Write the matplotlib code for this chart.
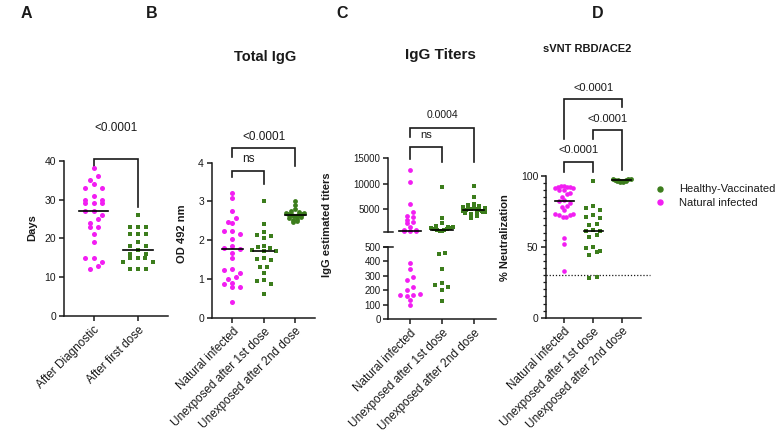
import numpy as np
import matplotlib
matplotlib.use('Agg')
import matplotlib.pyplot as plt
from matplotlib.lines import Line2D

plt.rcParams['font.family'] = ['Liberation Sans', 'DejaVu Sans']
plt.rcParams['axes.linewidth'] = 1.1

MAG = '#f21ef2'
GRN = '#3c7d1c'
INK = '#1a1a1a'

# ---------------- data ----------------
a_labels = ['After Diagnostic', 'After first dose']
a_after_diagnostic = [38, 36, 35, 34, 33, 33, 31, 30, 30, 29, 29, 29, 27, 27, 26, 25,
                      24, 23, 23, 21, 19, 15, 15, 14, 13, 12]
a_after_first_dose = [26, 23, 23, 23, 21, 21, 21, 19, 18, 18, 17, 16, 16, 15, 15, 15,
                      14, 14, 12, 12, 12]

grp_labels = ['Natural infected', 'Unexposed after 1st dose', 'Unexposed after 2nd dose']

b_natural = [3.21, 3.08, 2.76, 2.58, 2.47, 2.45, 2.25, 2.24, 2.15, 2.04, 1.84, 1.80, 1.78,
             1.66, 1.53, 1.26, 1.24, 1.15, 1.05, 1.00, 0.90, 0.88, 0.80, 0.78, 0.40]
b_first = [3.00, 2.42, 2.20, 2.13, 2.10, 2.05, 1.84, 1.82, 1.80, 1.75, 1.73, 1.72, 1.55,
           1.52, 1.50, 1.32, 1.30, 1.16, 0.98, 0.95, 0.88, 0.62]
b_second = [3.00, 2.90, 2.80, 2.75, 2.72, 2.70, 2.70, 2.68, 2.67, 2.66, 2.65, 2.65, 2.64,
            2.63, 2.62, 2.60, 2.58, 2.55, 2.52, 2.50, 2.47]

c_natural = [12800, 10300, 6000, 4400, 3700, 3500, 3000, 2500, 2300, 1600, 900, 850, 800,
             750, 700, 390, 345, 290, 270, 225, 205, 175, 170, 165, 160, 135, 100]
c_first = [9400, 3200, 2300, 1800, 1600, 1500, 1400, 1300, 1200, 1100, 1000, 900, 800, 700,
           460, 450, 345, 250, 235, 225, 200, 125]
c_second = [9500, 7400, 6000, 5800, 5600, 5400, 5300, 5200, 5100, 5000, 5000, 4900, 4800,
            4700, 4600, 4500, 4400, 4300, 4200, 4000, 3600, 3300]

d_natural = [93, 93, 92, 92, 92, 91, 91, 90, 90, 88, 87, 85, 83, 82, 81, 79, 78, 76, 73, 73,
             72, 72, 71, 71, 56, 52, 33]
d_first = [96, 79, 77, 76, 72, 71, 70, 66, 65, 62, 61, 61, 58, 57, 50, 49, 47, 46, 44, 29, 28]
d_second = [98, 97.8, 97.5, 97.2, 97, 96.8, 96.6, 96.4, 96.2, 96, 95.8, 95.5]

legend_labels = ['Healthy-Vaccinated', 'Natural infected']

# ---------------- layout helpers ----------------
W, H = 784, 447
fig = plt.figure(figsize=(W / 100, H / 100), dpi=100)


def add_ax(l, t, r, b):
    return fig.add_axes([l / W, 1 - b / H, (r - l) / W, (b - t) / H])


def ftext(x, y, s, **kw):
    fig.text(x / W, 1 - y / H, s, **kw)


def style(ax, fs, bottom=True):
    for s in ['top', 'right']:
        ax.spines[s].set_visible(False)
    ax.spines['left'].set_color(INK)
    ax.spines['bottom'].set_color(INK)
    if not bottom:
        ax.spines['bottom'].set_visible(False)
    ax.tick_params(direction='out', length=3.6, width=1.1, colors=INK, labelsize=fs, pad=2)


def xlabels(ax, labels):
    ax.set_xticks(range(len(labels)))
    ax.set_xticklabels(labels, rotation=45, ha='right', va='top', rotation_mode='anchor',
                       fontsize=8.5, color=INK)


def swarm(ax, xc, vals, step=8.0, rowh=5.0, maxw=30.0):
    """Row-binned scatter spread (pixel space), returned as x in data units."""
    vals = np.asarray(vals, float)
    pts = ax.transData.transform(np.column_stack([np.full(len(vals), xc), vals]))
    ypx = pts[:, 1]
    x0 = pts[0, 0]
    order = np.argsort(-ypx)
    rows, cur = [], []
    for i in order:
        if cur and (ypx[cur[0]] - ypx[i] > rowh):
            rows.append(cur)
            cur = []
        cur.append(i)
    rows.append(cur)
    xs = np.zeros(len(vals))
    for r in rows:
        n = len(r)
        st = step if n < 2 else min(step, maxw / (n - 1))
        # interleave so neighbouring values are spread left/right
        offs = [(j - (n - 1) / 2) * st for j in range(n)]
        seq = sorted(range(n), key=lambda j: abs(offs[j]))
        for i, j in zip(r, seq[::-1] if n % 2 == 0 else seq):
            xs[i] = x0 + offs[j]
    return ax.transData.inverted().transform(np.column_stack([xs, ypx]))[:, 0]


def draw_group(ax, xc, vals, color, marker, s=12, step=8.0, rowh=5.0, maxw=30.0, med=None):
    vals = np.asarray(vals, float)
    xs = swarm(ax, xc, vals, step, rowh, maxw)
    ax.scatter(xs, vals, s=s, marker=marker, color=color, linewidths=0, zorder=3, clip_on=False)
    if med is None:
        med = np.median(vals)
    ax.plot([xc - 0.33, xc + 0.33], [med, med], color='k', lw=1.2, zorder=4, clip_on=False)


def bracket(ax, x1, x2, top, l1, l2, txt, ty, fs):
    ax.plot([x1, x1, x2, x2], [l1, top, top, l2], color=INK, lw=1.2, clip_on=False,
            solid_joinstyle='miter')
    ax.text((x1 + x2) / 2, ty, txt, ha='center', va='center', fontsize=fs, color=INK)


# ---------------- Panel A ----------------
axA = add_ax(64, 160.7, 168, 316)
axA.set_xlim(-0.67, 1.68)
axA.set_ylim(0, 40)
axA.set_yticks([0, 10, 20, 30, 40])
style(axA, 7.5)
xlabels(axA, a_labels)
draw_group(axA, 0, a_after_diagnostic, MAG, 'o', s=13, step=8.3, rowh=4.5)
draw_group(axA, 1, a_after_first_dose, GRN, 's', s=12, step=8.0, rowh=4.5)
bracket(axA, 0, 1, 40.4, 38.1, 28.2, '<0.0001', 48.5, 8.5)

# ---------------- Panel B ----------------
axB = add_ax(211.7, 162.7, 315, 317.7)
axB.set_xlim(-0.66, 2.63)
axB.set_ylim(0, 4)
axB.set_yticks([0, 1, 2, 3, 4])
style(axB, 7.5)
xlabels(axB, grp_labels)
draw_group(axB, 0, b_natural, MAG, 'o', s=13, step=8.0, rowh=4.5)
draw_group(axB, 1, b_first, GRN, 's', s=12, step=7.0, rowh=4.5, maxw=24)
draw_group(axB, 2, b_second, GRN, 'o', s=12, step=4.0, rowh=3.5, maxw=18)
bracket(axB, 0, 2, 4.37, 4.14, 3.91, '<0.0001', 4.67, 8.5)
bracket(axB, 0, 1, 3.79, 3.63, 3.45, 'ns', 4.09, 8.5)

# ---------------- Panel C (broken axis) ----------------
axCu = add_ax(388.3, 158.3, 496, 232.25)
axCl = add_ax(388.3, 246.7, 496, 319.3)
for ax in (axCu, axCl):
    ax.set_xlim(-0.68, 2.69)
axCu.set_ylim(500, 15000)
axCl.set_ylim(0, 500)
axCu.set_yticks([5000, 10000, 15000])
axCl.set_yticks([0, 100, 200, 300, 400, 500])
style(axCu, 7, bottom=False)
style(axCl, 7)
axCu.set_xticks([])
xlabels(axCl, grp_labels)

for xc, vals, col, mk in [(0, c_natural, MAG, 'o'), (1, c_first, GRN, 's'),
                          (2, c_second, GRN, 's')]:
    v = np.asarray(vals, float)
    med = np.median(v)
    hi, lo = v[v >= 500], v[v < 500]
    if len(hi):
        xs = swarm(axCu, xc, hi, 6.0, 4.0, 22)
        axCu.scatter(xs, hi, s=12, marker=mk, color=col, linewidths=0, zorder=3, clip_on=False)
    if len(lo):
        xs = swarm(axCl, xc, lo, 6.5, 4.5, 24)
        axCl.scatter(xs, lo, s=12, marker=mk, color=col, linewidths=0, zorder=3, clip_on=False)
    tgt = axCu if med >= 500 else axCl
    tgt.plot([xc - 0.33, xc + 0.33], [med, med], color='k', lw=1.2, zorder=4, clip_on=False)

# break marks on the left spine
axCu.plot([-0.82, -0.54], [500, 500], color=INK, lw=1.1, clip_on=False)
axCl.plot([-0.82, -0.54], [500, 500], color=INK, lw=1.1, clip_on=False)

bracket(axCu, 0, 2, 21000, 19234, 14334, '0.0004', 23490, 7.5)
bracket(axCu, 0, 1, 17156, 14804, 14334, 'ns', 19570, 8)

# ---------------- Panel D ----------------
axD = add_ax(546, 175.7, 640.7, 317.7)
axD.set_xlim(-0.64, 2.66)
axD.set_ylim(0, 100)
axD.set_yticks([0, 50, 100])
axD.set_yticks(np.arange(0, 101, 5), minor=True)
style(axD, 7.5)
axD.tick_params(axis='y', which='minor', length=2.2, width=0.9, colors=INK)
xlabels(axD, grp_labels)
draw_group(axD, 0, d_natural, MAG, 'o', s=11, step=5.5, rowh=4.0, maxw=18)
draw_group(axD, 1, d_first, GRN, 's', s=12, step=7.3, rowh=4.5, maxw=16)
draw_group(axD, 2, d_second, GRN, 'o', s=12, step=3.0, rowh=2.5, maxw=18)
axD.plot([-0.64, 2.99], [30, 30], ls=(0, (1, 1.5)), color=INK, lw=0.9, clip_on=False)
bracket(axD, 0, 2, 153.8, 125.6, 148.6, '<0.0001', 162, 8)
bracket(axD, 1, 2, 132.2, 125.6, 104, '<0.0001', 139.7, 8)
bracket(axD, 0, 1, 109.9, 102.8, 102.8, '<0.0001', 118, 8)

# ---------------- titles / labels ----------------
for x, y, s in [(26, 14, 'A'), (152, 14, 'B'), (342, 14, 'C'), (598, 14, 'D')]:
    ftext(x, y, s, ha='center', va='center', fontsize=11.5, fontweight='bold', color=INK)
ftext(265, 57, 'Total IgG', ha='center', va='center', fontsize=10.5, fontweight='bold', color=INK)
ftext(440, 55, 'IgG Titers', ha='center', va='center', fontsize=11, fontweight='bold', color=INK)
ftext(586.7, 49.3, 'sVNT RBD/ACE2', ha='center', va='center', fontsize=8, fontweight='bold', color=INK)

for x, y, s in [(32, 228, 'Days'), (181.7, 234, 'OD 492 nm'),
                (327, 225, 'IgG estimated titers'), (505, 237.6, '% Neutralization')]:
    ftext(x, y, s, ha='center', va='center', rotation=90, fontsize=8, fontweight='bold', color=INK)

# ---------------- legend ----------------
handles = [Line2D([], [], marker='o', ls='', color=GRN, ms=3.6),
           Line2D([], [], marker='o', ls='', color=MAG, ms=3.6)]
fig.legend(handles, legend_labels, loc='upper left', bbox_to_anchor=(654.5 / W, 1 - 184.5 / H),
           frameon=False, fontsize=8, handlelength=1.0, handletextpad=1.2, labelspacing=0.3,
           borderpad=0, borderaxespad=0, labelcolor=INK)

fig.savefig('out.png', dpi=100)
